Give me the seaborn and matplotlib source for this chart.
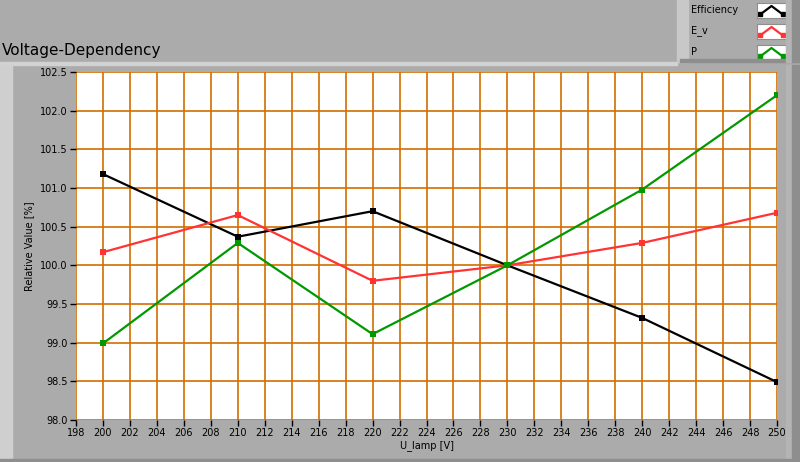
import matplotlib
matplotlib.use("Agg")
import matplotlib.pyplot as plt
import matplotlib.patches as mpatches
import pandas as pd
import seaborn as sns

voltage = [200, 210, 220, 230, 240, 250]
efficiency = [101.18, 100.37, 100.70, 100.00, 99.32, 98.49]
e_v = [100.17, 100.65, 99.80, 100.00, 100.29, 100.68]
power = [98.99, 100.29, 99.11, 100.00, 100.98, 102.20]

series_names = ["Efficiency", "E_v", "P"]
series_colors = ["#000000", "#FF3333", "#009900"]
x_ticks = list(range(198, 251, 2))
y_ticks = [98.0, 98.5, 99.0, 99.5, 100.0, 100.5, 101.0, 101.5, 102.0, 102.5]

df = pd.DataFrame({
    "U_lamp": voltage * 3,
    "value": efficiency + e_v + power,
    "series": sum([[n] * len(voltage) for n in series_names], []),
})

sns.set_theme(style="white")
plt.rcParams["font.family"] = ["DejaVu Sans"]

BG = "#ABABAB"
GRID = "#D26E00"

fig = plt.figure(figsize=(8, 4.62), dpi=100, facecolor=BG)

# panel frame pieces (pixel units converted to figure fraction)
W, H = 800, 462


def rect(x0, y0, x1, y1, color):
    fig.patches.append(mpatches.Rectangle((x0 / W, 1 - y1 / H), (x1 - x0) / W, (y1 - y0) / H,
                                          transform=fig.transFigure, color=color, zorder=0))


rect(0, 62, 677, 65, "#D2D2D2")
rect(0, 65, 12, 462, "#CFCFCF")
rect(786, 65, 800, 462, "#B4B4B4")
rect(792, 65, 800, 462, "#8E8E8E")
rect(0, 459, 800, 462, "#8E8E8E")
# legend box
rect(677, 0, 688, 62, "#C8C8C8")
rect(680, 59, 800, 62, "#8E8E8E")
rect(786, 0, 800, 62, "#B4B4B4")
rect(792, 0, 800, 62, "#8E8E8E")

fig.text(2 / W, 1 - 51 / H, "Voltage-Dependency", fontsize=11, va="center", ha="left", color="#000000")

ax = fig.add_axes([76 / W, 1 - 420 / H, 701 / W, 348 / H])
ax.set_facecolor("white")

sns.lineplot(data=df, x="U_lamp", y="value", hue="series", palette=series_colors,
             marker="s", markersize=4, markeredgewidth=0, linewidth=1.6, ax=ax, legend=False)

ax.set_xlim(198, 250)
ax.set_ylim(98.0, 102.5)
ax.set_xticks(x_ticks)
ax.set_yticks(y_ticks)
ax.set_yticklabels([f"{v:.1f}" for v in y_ticks])
ax.grid(True, color=GRID, linewidth=1.2)
ax.set_axisbelow(True)
for s in ax.spines.values():
    s.set_visible(False)
ax.tick_params(axis="both", direction="out", length=4, width=1, color="#000000",
               labelsize=7, labelcolor="#000000", pad=2, left=True, bottom=True)
ax.set_xlabel("U_lamp [V]", fontsize=7, labelpad=1, color="#000000")
ax.set_ylabel("Relative Value [%]", fontsize=7, labelpad=4, color="#000000")

# legend entries
for i, (name, col) in enumerate(zip(series_names, series_colors)):
    yc = 10 + i * 21
    fig.text(691 / W, 1 - yc / H, name, fontsize=7, va="center", ha="left", color="#000000")
    iax = fig.add_axes([757 / W, 1 - (yc + 8) / H, 29 / W, 15 / H])
    iax.set_facecolor("white")
    iax.plot([0.12, 0.5, 0.88], [0.25, 0.8, 0.25], color=col, linewidth=1.6,
             marker="s", markersize=3, markevery=[0, 2])
    iax.set_xlim(0, 1)
    iax.set_ylim(0, 1)
    iax.set_xticks([])
    iax.set_yticks([])
    for s in iax.spines.values():
        s.set_color("#8E8E8E")
        s.set_linewidth(0.8)

fig.savefig("out.png", dpi=100, facecolor=BG)
